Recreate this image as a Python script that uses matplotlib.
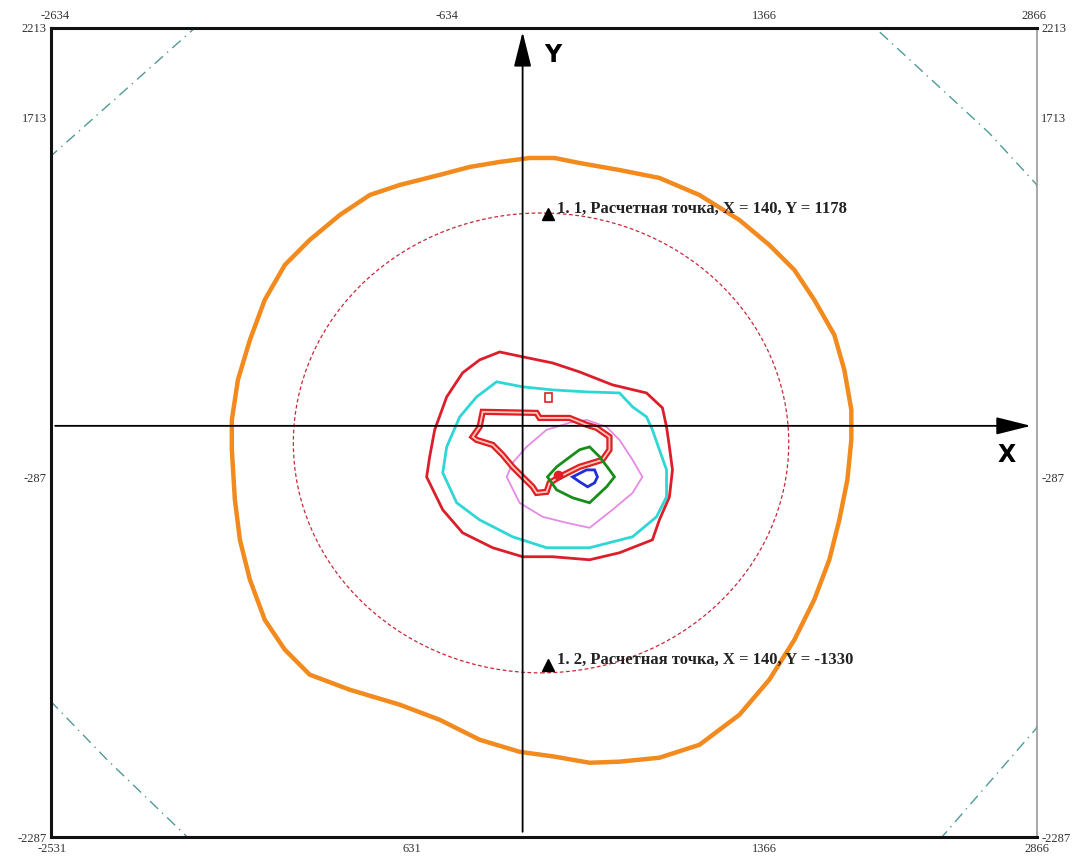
import matplotlib
matplotlib.use("Agg")
import matplotlib.pyplot as plt
from matplotlib.patches import Ellipse, Rectangle, Polygon

# --- data (map coordinates, m) ---
top_tick_pos = [-2611, -424, 1350, 2856]
top_tick_labels = ["-2634", "-634", "1366", "2866"]
bottom_tick_pos = [-2627, -619, 1350, 2873]
bottom_tick_labels = ["-2531", "631", "1366", "2866"]
y_tick_pos = [2213, 1713, -287, -2287]
y_tick_labels = ["2213", "1713", "-287", "-2287"]

orange_x = [-128, 39, 179, 318, 541, 764, 988, 1211, 1378, 1518, 1629, 1741, 1797, 1836, 1836, 1814, 1769,
            1713, 1629, 1518, 1378, 1211, 988, 764, 541, 374, 179, -17, -240, -463, -686, -965, -1189,
            -1328, -1440, -1523, -1579, -1607, -1624, -1624, -1590, -1523, -1440, -1328, -1189, -1021,
            -854, -686, -463, -296]
orange_y = [1468, 1490, 1490, 1462, 1423, 1379, 1284, 1145, 1006, 867, 701, 506, 311, 89, -78, -300, -523,
            -745, -967, -1190, -1412, -1607, -1774, -1846, -1868, -1874, -1840, -1813, -1746, -1635, -1551,
            -1468, -1384, -1245, -1079, -856, -634, -411, -133, 33, 256, 478, 701, 895, 1034, 1173,
            1284, 1340, 1396, 1440]

red_x = [-128, 0, 167, 318, 502, 692, 781, 804, 820, 837, 820, 764, 725, 541, 374, 167, 0, -167, -335,
         -446, -536, -519, -491, -424, -335, -240]
red_y = [411, 384, 350, 300, 228, 183, 100, -6, -117, -245, -395, -523, -634, -706, -745, -728, -728,
         -678, -595, -467, -284, -172, -22, 161, 295, 367]

cyan_x = [-145, 0, 167, 357, 541, 614, 692, 725, 764, 804, 804, 748, 614, 374, 134, -56, -240, -368,
          -446, -424, -351, -257]
cyan_y = [245, 217, 200, 189, 183, 106, 50, -22, -133, -245, -395, -506, -617, -678, -678, -617, -523,
          -428, -261, -117, 50, 161]

magenta_x = [262, 357, 469, 541, 614, 669, 614, 502, 374, 245, 112, -17, -89, -56, 22, 134]
magenta_y = [17, 33, -6, -78, -189, -284, -373, -467, -567, -539, -506, -428, -284, -206, -117, -22]

green_x = [374, 430, 485, 513, 469, 374, 279, 190, 139, 190, 318]
green_y = [-117, -172, -245, -284, -339, -428, -400, -356, -284, -228, -133]

blue_x = [279, 357, 402, 418, 402, 363, 318]
blue_y = [-284, -245, -245, -284, -317, -339, -311]

inner_x = [-223, 78, 95, 262, 357, 413, 485, 485, 446, 318, 206, 151, 134, 78, 56, 0, -56, -112, -167,
           -257, -279, -240]
inner_y = [78, 72, 44, 44, 6, -11, -61, -133, -189, -228, -284, -317, -367, -373, -339, -284, -228,
           -161, -106, -78, -61, -6]

teal_x = [67, 987, 1969, 2605, 2867, 3163, 3218, 3107, 2867, 2716, 2343, 1991, 206, -1523, -1874, -2320,
          -2633, -2917, -3029, -2917, -2633, -2488, -1830, -965]
teal_y = [2981, 2703, 2214, 1630, 1346, 701, -78, -1079, -1685, -1858, -2286, -2636, -3081, -2692, -2286,
          -1858, -1535, -968, -78, 812, 1502, 1630, 2214, 2759]

red_circle_center = (103, -95)
red_circle_size = (2767, 2558)

points_x = [140, 140]
points_y = [1178, -1330]
points_labels = ["1. 1, Расчетная точка, X = 140, Y = 1178",
                 "1. 2, Расчетная точка, X = 140, Y = -1330"]

xlim = (-2634, 2866)
ylim = (-2287, 2213)

fig = plt.figure(figsize=(10.89, 8.59), dpi=100)
ax = fig.add_axes([51 / 1089, 22 / 859, 986 / 1089, 809 / 859])
ax.set_xlim(xlim)
ax.set_ylim(ylim)

tick_font = dict(family="Liberation Serif", size=9, color="#333333")

# ticks: bottom + left/right on the main axes, top on a secondary axis
ax.set_xticks(bottom_tick_pos)
ax.set_xticklabels(bottom_tick_labels, **tick_font)
ax.set_yticks(y_tick_pos)
ax.set_yticklabels(y_tick_labels, **tick_font)
ax.tick_params(length=0, pad=3)
ax.tick_params(axis="x", pad=4)
ax.yaxis.set_ticks_position("both")
ax.yaxis.set_tick_params(labelright=True, labelleft=True)
for t in ax.yaxis.get_major_ticks():
    t.label2.set_fontfamily("Liberation Serif")
    t.label2.set_fontsize(9)
    t.label2.set_color("#333333")

top = ax.secondary_xaxis("top")
top.set_xticks(top_tick_pos)
top.set_xticklabels(top_tick_labels, **tick_font)
top.tick_params(length=0, pad=4)
top.spines["top"].set_visible(False)

for s in ["left", "top", "bottom"]:
    ax.spines[s].set_linewidth(2.2)
    ax.spines[s].set_color("#111111")
ax.spines["right"].set_linewidth(1.2)
ax.spines["right"].set_color("#9a9a9a")

# outer teal dash-dot contour
ax.add_patch(Polygon(list(zip(teal_x, teal_y)), closed=True, fill=False, edgecolor="#4f9a9a",
                     lw=1.0, linestyle=(0, (8, 4, 1, 4))))

# red dashed circle
ax.add_patch(Ellipse(red_circle_center, red_circle_size[0], red_circle_size[1], fill=False,
                     edgecolor="#c8283a", lw=0.9, linestyle=(0, (3, 2))))

ax.add_patch(Polygon(list(zip(orange_x, orange_y)), closed=True, fill=False, edgecolor="#f28a1e", lw=3.2))
ax.add_patch(Polygon(list(zip(red_x, red_y)), closed=True, fill=False, edgecolor="#dc1e2a", lw=2.0))
ax.add_patch(Polygon(list(zip(cyan_x, cyan_y)), closed=True, fill=False, edgecolor="#2fd6d6", lw=2.0))
ax.add_patch(Polygon(list(zip(magenta_x, magenta_y)), closed=True, fill=False, edgecolor="#e58ae5", lw=1.3))
ax.add_patch(Polygon(list(zip(inner_x, inner_y)), closed=True, fill=False, edgecolor="#e01e24", lw=4.5))
ax.add_patch(Polygon(list(zip(inner_x, inner_y)), closed=True, fill=False, edgecolor="#ffc8b8", lw=1.3))
ax.add_patch(Polygon(list(zip(green_x, green_y)), closed=True, fill=False, edgecolor="#1a8c1a", lw=2.0))
ax.add_patch(Polygon(list(zip(blue_x, blue_y)), closed=True, fill=False, edgecolor="#1f2fd8", lw=2.0))
ax.add_patch(Rectangle((123, 133), 39, 51, fill=False, edgecolor="#e02020", lw=1.2))
ax.plot([195], [-272], "o", color="#e01e24", ms=6)

# axes arrows
arrow = dict(arrowstyle="-|>,head_length=1.2,head_width=0.3", color="black", lw=1.3,
             mutation_scale=18, shrinkA=0, shrinkB=0)
ax.annotate("", xy=(2839, 0), xytext=(-2611, 0), arrowprops=arrow)
ax.annotate("", xy=(0, 2191), xytext=(0, -2258), arrowprops=arrow)
ax.text(2705, -161, "X", fontsize=17, fontweight="bold", family="DejaVu Sans", ha="center", va="center")
ax.text(167, 2063, "Y", fontsize=17, fontweight="bold", family="DejaVu Sans", ha="center", va="center")

# calculation points
ax.plot(points_x, points_y, "^", color="black", ms=9)
for px, py, lab in zip(points_x, points_y, points_labels):
    ax.text(px + 50, py + 30, lab, fontsize=12, fontweight="bold", family="Liberation Serif",
            color="#222222", ha="left", va="center")

fig.savefig("out.png", dpi=100)
